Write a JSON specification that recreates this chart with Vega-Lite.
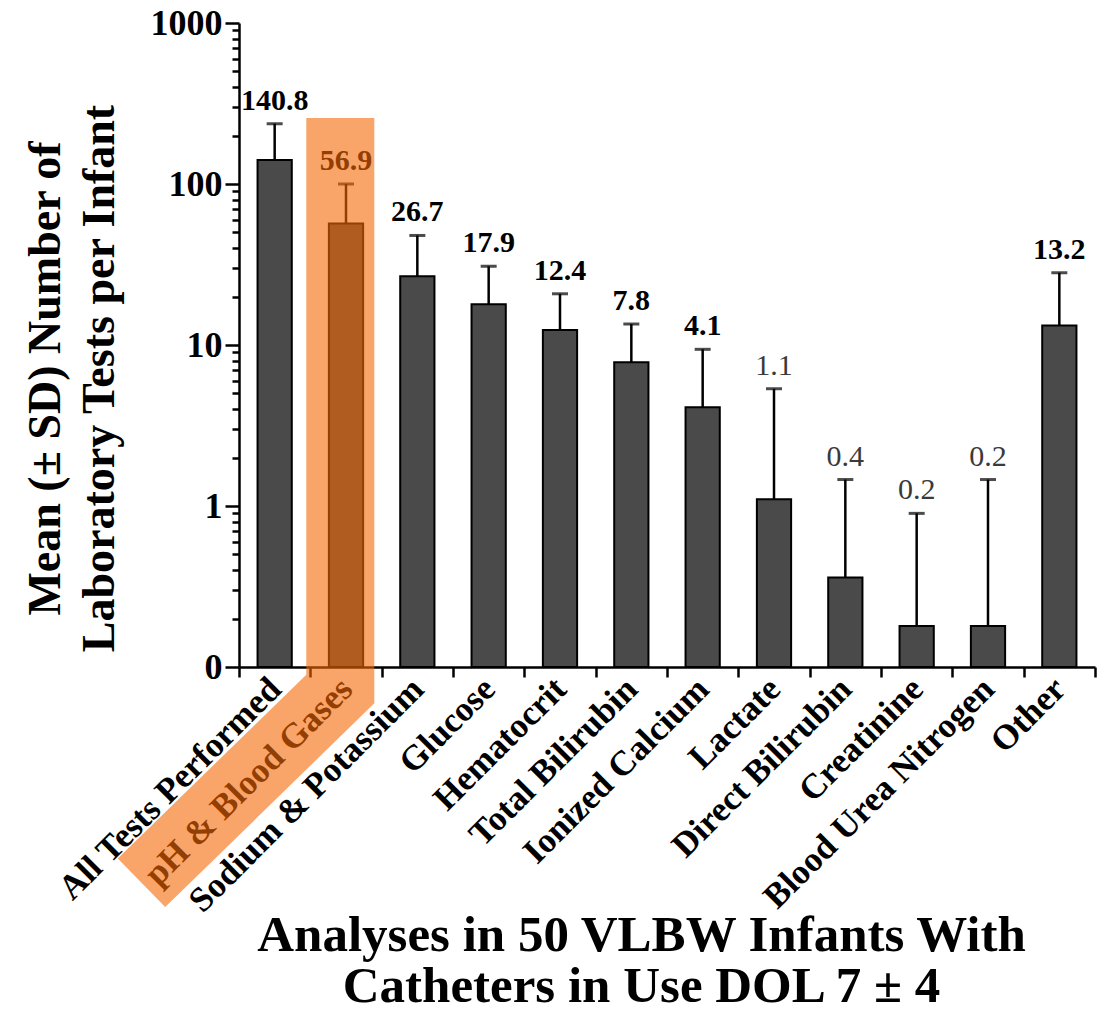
{
  "$schema": "https://vega.github.io/schema/vega-lite/v6.json",
  "width": 856,
  "height": 644,
  "autosize": "none",
  "padding": {"left": 239, "top": 23, "right": 22, "bottom": 350},
  "background": "white",
  "config": {"view": {"stroke": null}, "font": "Liberation Serif"},
  "layer": [
    {
      "data": {
        "values": [
          {"test": "All Tests Performed", "mean": 140.8, "upper": 237},
          {"test": "pH & Blood Gases", "mean": 56.9, "upper": 100},
          {"test": "Sodium & Potassium", "mean": 26.7, "upper": 47.9},
          {"test": "Glucose", "mean": 17.9, "upper": 30.8},
          {"test": "Hematocrit", "mean": 12.4, "upper": 20.8},
          {"test": "Total Bilirubin", "mean": 7.8, "upper": 13.5},
          {"test": "Ionized Calcium", "mean": 4.1, "upper": 9.4},
          {"test": "Lactate", "mean": 1.1, "upper": 5.35},
          {"test": "Direct Bilirubin", "mean": 0.36, "upper": 1.46},
          {"test": "Creatinine", "mean": 0.18, "upper": 0.9},
          {"test": "Blood Urea Nitrogen", "mean": 0.18, "upper": 1.46},
          {"test": "Other", "mean": 13.2, "upper": 28.1}
        ]
      },
      "encoding": {
        "x": {
          "field": "test",
          "type": "nominal",
          "sort": null,
          "scale": {"paddingInner": 0, "paddingOuter": 0},
          "axis": {
            "tickBand": "extent",
            "tickSize": 10,
            "tickWidth": 2.5,
            "tickColor": "black",
            "domainColor": "black",
            "domainWidth": 2.5,
            "labelAngle": -45,
            "labelAlign": "right",
            "labelBaseline": "middle",
            "labelFont": "Liberation Serif",
            "labelFontSize": 35,
            "labelFontWeight": "bold",
            "labelColor": "black",
            "labelPadding": 6,
            "labelLimit": 600,
            "labelOverlap": false,
            "title": ["Analyses in 50 VLBW Infants With", "Catheters in Use DOL 7 ± 4"],
            "titleFont": "Liberation Serif",
            "titleFontSize": 51,
            "titleFontWeight": "bold",
            "titleColor": "black",
            "titleAngle": 0,
            "titleAlign": "center",
            "titleBaseline": "alphabetic",
            "titleLineHeight": 51,
            "titleX": 402,
            "titleY": 283
          }
        }
      },
      "layer": [
        {
          "mark": {"type": "bar", "fill": "#4a4a4a", "stroke": "black", "strokeWidth": 2, "width": {"band": 0.48}},
          "encoding": {
            "y": {
              "field": "mean",
              "type": "quantitative",
              "scale": {"type": "log", "domain": [0.1, 1000], "nice": false},
              "axis": {
                "values": [0.1, 0.2, 0.3, 0.4, 0.5, 0.6, 0.7, 0.8, 0.9, 1, 2, 3, 4, 5, 6, 7, 8, 9, 10, 20, 30, 40, 50, 60, 70, 80, 90, 100, 200, 300, 400, 500, 600, 700, 800, 900, 1000],
                "labelExpr": "indexof([0.1,1,10,100,1000], datum.value) >= 0 ? (datum.value == 0.1 ? '0' : format(datum.value, 'd')) : ''",
                "tickSize": {"condition": {"test": "indexof([0.1,1,10,100,1000], datum.value) >= 0", "value": 14}, "value": 7},
                "tickWidth": 2.5,
                "tickColor": "black",
                "domainColor": "black",
                "domainWidth": 2.5,
                "labelFont": "Liberation Serif",
                "labelFontSize": 36,
                "labelFontWeight": "bold",
                "labelColor": "black",
                "labelPadding": 3,
                "labelBaseline": "middle",
                "labelOverlap": false,
                "grid": false,
                "title": ["Mean (± SD) Number of", "Laboratory Tests per Infant"],
                "titleFont": "Liberation Serif",
                "titleFontSize": 46,
                "titleFontWeight": "bold",
                "titleColor": "black",
                "titleAngle": -90,
                "titleAlign": "center",
                "titleBaseline": "alphabetic",
                "titleLineHeight": 54,
                "titleX": -180,
                "titleY": 355
              }
            },
            "y2": {"datum": 0.1}
          }
        },
        {
          "mark": {"type": "rule", "strokeWidth": 2.5, "color": "black"},
          "encoding": {
            "y": {"field": "mean", "type": "quantitative"},
            "y2": {"field": "upper"}
          }
        },
        {
          "mark": {"type": "tick", "orient": "horizontal", "size": 16, "thickness": 3, "color": "black"},
          "encoding": {
            "y": {"field": "upper", "type": "quantitative"}
          }
        },
        {
          "transform": [{"filter": "datum.mean >= 2"}],
          "mark": {"type": "text", "font": "Liberation Serif", "fontSize": 30, "fontWeight": "bold", "baseline": "alphabetic", "dy": -14, "color": "black"},
          "encoding": {
            "y": {"field": "upper", "type": "quantitative"},
            "text": {"field": "mean", "type": "quantitative", "format": ".1f"}
          }
        },
        {
          "transform": [{"filter": "datum.mean < 2"}],
          "mark": {"type": "text", "font": "Liberation Serif", "fontSize": 30, "fontWeight": "normal", "baseline": "alphabetic", "dy": -14, "color": "#3a3a3a"},
          "encoding": {
            "y": {"field": "upper", "type": "quantitative"},
            "text": {"field": "mean", "type": "quantitative", "format": ".1f"}
          }
        }
      ]
    },
    {
      "data": {
        "values": [
          {"xi": 0.92, "v": 257, "o": 0},
          {"xi": 0.92, "v": 0.073, "o": 1},
          {"xi": -1.867, "v": 0.00457, "o": 2}
        ]
      },
      "mark": {"type": "line", "color": "#F56703", "opacity": 0.6, "strokeWidth": 68, "strokeCap": "butt", "strokeJoin": "miter", "clip": false},
      "encoding": {
        "x": {"field": "xi", "type": "quantitative", "scale": {"domain": [-0.5, 11.5], "nice": false, "zero": false}, "axis": null},
        "y": {"field": "v", "type": "quantitative", "scale": {"type": "log", "domain": [0.1, 1000], "nice": false}, "axis": null},
        "order": {"field": "o", "type": "quantitative"}
      }
    }
  ],
  "resolve": {"scale": {"x": "independent"}, "axis": {"y": "independent"}}
}
